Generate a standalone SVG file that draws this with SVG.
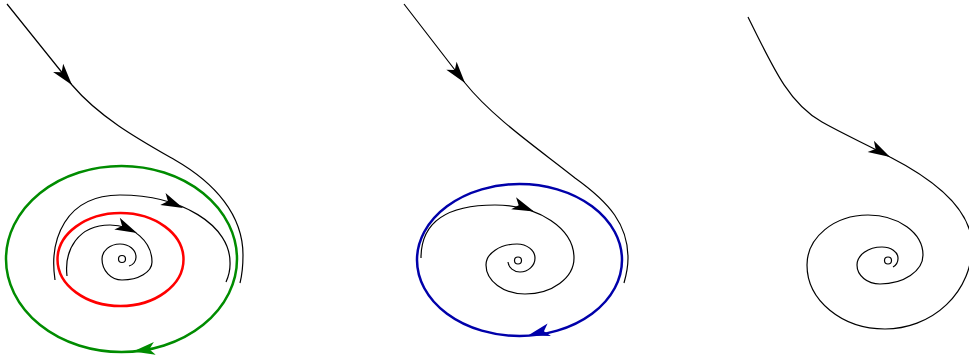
<svg xmlns="http://www.w3.org/2000/svg" xmlns:xlink="http://www.w3.org/1999/xlink" width="969" height="358" viewBox="0 0 969 358">
<style>
.traj{fill:none;stroke:#000;stroke-width:1.2}
.eq{fill:#fff;stroke:#000;stroke-width:1.2}
.green{fill:none;stroke:#008c00;stroke-width:2.5}
.red{fill:none;stroke:#ff0000;stroke-width:2.5}
.blue{fill:none;stroke:#0000aa;stroke-width:2.5}
</style>
<defs>
<path id="ah" d="M0,0 L-22,-6.5 L-16.5,0 L-22,6.5 Z"/>
</defs>
<rect width="969" height="358" fill="#fff"/>
<g id="panel1">
<ellipse class="green" cx="121.5" cy="259" rx="115.5" ry="93"/>
<ellipse class="red" cx="120.5" cy="259.5" rx="63" ry="46.5"/>
<path class="traj" d="M7,4 L72,85 C100,118 140,140 175,160 C215,183 243,215 243,255 C243,268 242,275 240,283"/>
<path class="traj" d="M55,280 C49,240 65,195 120,195 A110 67 0 0 1 230 262 A110 67 0 0 1 226 282"/>
<path class="traj" d="M67,276 C64,250 78,225 110,225 A42 37 0 0 1 152 262 A30 18 0 0 1 122 280 A20 21 0 0 1 102 259 A18 15 0 0 1 120 244 A16 13 0 0 1 136 257 A9 9 0 0 1 129 266"/>
<circle class="eq" cx="122" cy="259" r="3.5"/>
<use xlink:href="#ah" transform="translate(72,85) rotate(51)"/>
<use xlink:href="#ah" transform="translate(183,208) rotate(24)"/>
<use xlink:href="#ah" transform="translate(137,233) rotate(25)"/>
<use xlink:href="#ah" fill="#008c00" transform="translate(133,351.5) rotate(172)"/>
</g>
<g id="panel2">
<ellipse class="blue" cx="519.5" cy="260" rx="102.5" ry="76"/>
<path class="traj" d="M404,4 L465,83 C493,118 540,150 575,178 C610,203 628,225 628,258 C628,268 626,276 624,283"/>
<path class="traj" d="M421,258 C421,222 447,205 495,205 A79 53 0 0 1 574 258 A49 36 0 0 1 525 294 A39 29 0 0 1 486 265 A31 21 0 0 1 517 244 A18 14 0 0 1 535 258 A15 14 0 0 1 520 272 A12 11 0 0 1 508 262"/>
<circle class="eq" cx="518" cy="260.5" r="3.5"/>
<use xlink:href="#ah" transform="translate(465,83) rotate(52)"/>
<use xlink:href="#ah" transform="translate(534,211.5) rotate(22)"/>
<use xlink:href="#ah" fill="#0000aa" transform="translate(528,335.5) rotate(165)"/>
</g>
<g id="panel3">
<path class="traj" d="M748,17 C775,72 790,104 822,122 C845,135 868,145 890,157 C925,175 972,205 972,246 A87 83 0 0 1 885 329 A78 64 0 0 1 807 265 A61 50 0 0 1 868 215 A55 40 0 0 1 923 255 A43 29 0 0 1 880 284 A23 19 0 0 1 857 265 A25 18 0 0 1 882 247 A16 11 0 0 1 898 258 A10 10 0 0 1 893 267"/>
<circle class="eq" cx="888" cy="260.5" r="3.5"/>
<use xlink:href="#ah" transform="translate(890,157) rotate(29)"/>
</g>
</svg>
